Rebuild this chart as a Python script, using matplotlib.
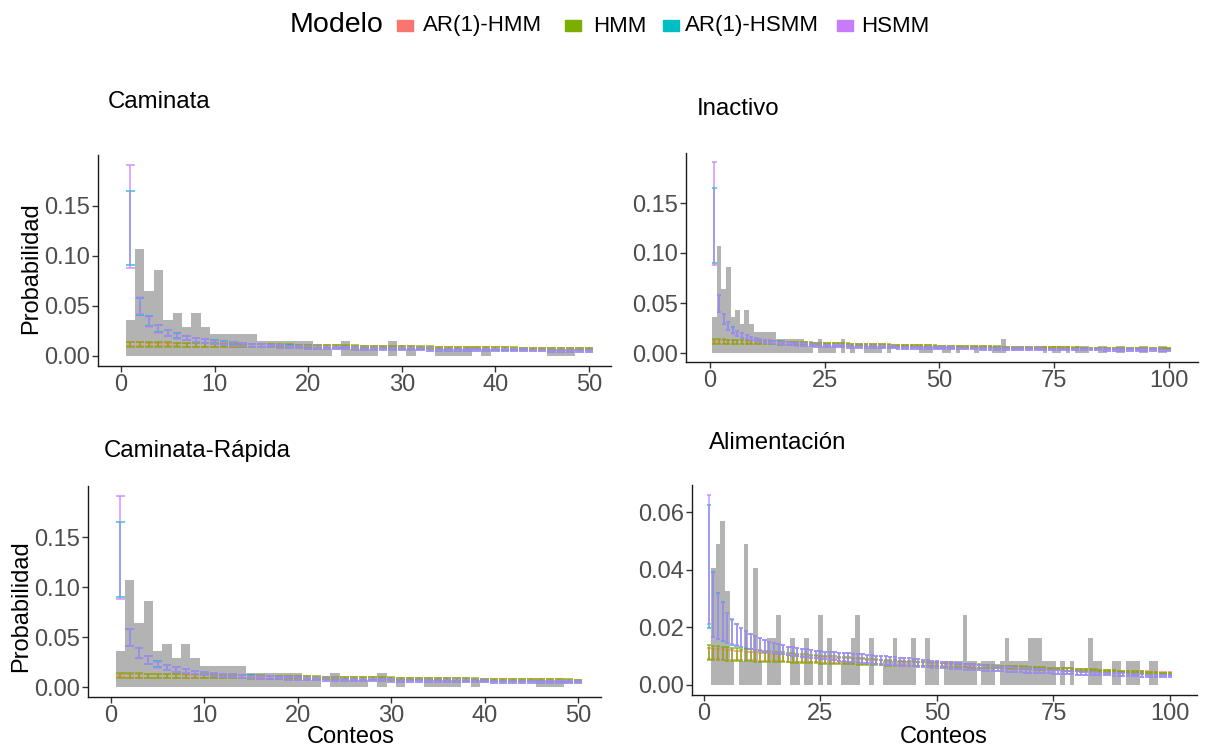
import numpy as np
import matplotlib.pyplot as plt
from matplotlib.patches import Rectangle

plt.rcParams['font.family'] = ['Liberation Sans', 'DejaVu Sans']

W, H = 1209, 751

modelos = ['AR(1)-HMM', 'HMM', 'AR(1)-HSMM', 'HSMM']
colores = ['#F8766D', '#7CAE00', '#00BFC4', '#C77CFF']

conteo = np.arange(1, 101)

# frecuencias observadas (Caminata / Inactivo / Caminata-Rapida), n = 140
frec_cam = [5, 15, 9, 12, 5, 6, 4, 6, 4, 3,
            3, 3, 3, 3, 2, 2, 2, 2, 2, 2,
            1, 1, 0, 2, 1, 1, 1, 0, 2, 0,
            1, 0, 0, 1, 1, 1, 1, 0, 1, 0,
            0, 0, 0, 0, 0, 1, 1, 1, 0, 0,
            1, 1, 0, 1, 0, 0, 0, 1, 0, 0,
            0, 1, 1, 2, 0, 0, 0, 0, 0, 0,
            0, 0, 1, 0, 1, 1, 0, 1, 0, 1,
            1, 1, 0, 0, 1, 1, 0, 0, 1, 1,
            0, 0, 0, 1, 1, 0, 0, 1, 1, 0]
n_cam = 140

# frecuencias observadas (Alimentacion), n = 123
frec_ali = [0, 5, 6, 7, 4, 1, 0, 1, 6, 1,
            5, 1, 0, 2, 2, 3, 0, 0, 2, 1,
            0, 2, 1, 0, 3, 0, 2, 0, 0, 1,
            1, 2, 3, 0, 0, 2, 0, 0, 1, 1,
            2, 1, 1, 1, 2, 0, 0, 2, 1, 1,
            0, 1, 1, 1, 1, 3, 1, 1, 0, 1,
            1, 1, 0, 1, 2, 1, 1, 1, 1, 2,
            2, 2, 1, 1, 1, 0, 1, 0, 1, 0,
            0, 0, 2, 1, 1, 0, 0, 1, 1, 0,
            1, 1, 1, 0, 0, 1, 1, 0, 0, 0]
n_ali = 123

# intervalos de probabilidad estimada, Caminata
cam_hmm_hi = [.0140, .0138, .0137, .0135, .0134, .0132, .0131, .0129, .0128, .0126,
              .0125, .0123, .0122, .0120, .0119, .0117, .0115, .0113, .0111, .0109,
              .0108, .0107, .0105, .0104, .0103, .0101, .0100, .0099, .0098, .0096,
              .0095, .0094, .0093, .0092, .0091, .0089, .0088, .0087, .0086, .0085,
              .0084, .0083, .0082, .0081, .0080, .0079, .0078, .0077, .0076, .0075,
              .0074, .0073, .0073, .0072, .0071, .0070, .0070, .0069, .0068, .0068,
              .0067, .0066, .0066, .0065, .0064, .0064, .0063, .0062, .0062, .0061,
              .0061, .0060, .0059, .0059, .0058, .0058, .0057, .0057, .0056, .0056,
              .0055, .0055, .0054, .0054, .0053, .0053, .0053, .0052, .0052, .0051,
              .0051, .0051, .0050, .0050, .0050, .0049, .0049, .0049, .0048, .0048]
cam_hmm_lo = [.0092, .0091, .0091, .0090, .0090, .0089, .0089, .0088, .0088, .0087,
              .0087, .0087, .0086, .0086, .0085, .0085, .0084, .0083, .0082, .0081,
              .0080, .0079, .0078, .0077, .0076, .0075, .0074, .0073, .0072, .0071,
              .0070, .0069, .0068, .0067, .0066, .0065, .0064, .0063, .0062, .0061,
              .0060, .0059, .0058, .0057, .0057, .0056, .0055, .0054, .0054, .0053,
              .0052, .0052, .0051, .0051, .0050, .0050, .0049, .0049, .0048, .0048,
              .0047, .0047, .0046, .0046, .0046, .0045, .0045, .0044, .0044, .0044,
              .0043, .0043, .0043, .0042, .0042, .0042, .0041, .0041, .0041, .0041,
              .0040, .0040, .0040, .0040, .0039, .0039, .0039, .0039, .0039, .0038,
              .0038, .0038, .0038, .0038, .0037, .0037, .0037, .0037, .0037, .0036]
cam_arhmm_hi = [.0134, .0133, .0132, .0130, .0129, .0128, .0126, .0125, .0124, .0122,
                .0121, .0119, .0118, .0117, .0115, .0114, .0112, .0110, .0109, .0107,
                .0106, .0105, .0103, .0102, .0101, .0099, .0098, .0097, .0096, .0095,
                .0093, .0092, .0091, .0090, .0089, .0088, .0087, .0086, .0085, .0084,
                .0083, .0082, .0081, .0080, .0079, .0078, .0077, .0076, .0075, .0074,
                .0073, .0072, .0072, .0071, .0070, .0069, .0069, .0068, .0067, .0067,
                .0066, .0065, .0065, .0064, .0063, .0063, .0062, .0061, .0061, .0060,
                .0060, .0059, .0058, .0058, .0057, .0057, .0056, .0056, .0055, .0055,
                .0054, .0054, .0053, .0053, .0052, .0052, .0052, .0051, .0051, .0050,
                .0050, .0050, .0049, .0049, .0049, .0048, .0048, .0048, .0047, .0047]
cam_arhmm_lo = [.0096, .0095, .0095, .0094, .0093, .0093, .0092, .0091, .0091, .0090,
                .0089, .0089, .0088, .0087, .0087, .0086, .0085, .0084, .0083, .0082,
                .0081, .0080, .0079, .0078, .0077, .0076, .0075, .0074, .0073, .0072,
                .0071, .0070, .0069, .0068, .0067, .0066, .0065, .0064, .0063, .0062,
                .0061, .0060, .0059, .0058, .0058, .0057, .0056, .0055, .0055, .0054,
                .0053, .0053, .0052, .0052, .0051, .0051, .0050, .0050, .0049, .0049,
                .0048, .0048, .0047, .0047, .0047, .0046, .0046, .0045, .0045, .0045,
                .0044, .0044, .0044, .0043, .0043, .0043, .0042, .0042, .0042, .0042,
                .0041, .0041, .0041, .0041, .0040, .0040, .0040, .0040, .0040, .0039,
                .0039, .0039, .0039, .0039, .0038, .0038, .0038, .0038, .0038, .0037]
cam_hsmm_hi = [.1907, .0583, .0392, .0306, .0253, .0220, .0197, .0178, .0163, .0151,
               .0141, .0133, .0126, .0120, .0115, .0110, .0106, .0102, .0099, .0096,
               .0093, .0091, .0088, .0086, .0084, .0082, .0081, .0079, .0078, .0076,
               .0075, .0074, .0073, .0071, .0070, .0069, .0068, .0067, .0066, .0066,
               .0065, .0064, .0063, .0062, .0062, .0061, .0060, .0059, .0059, .0058,
               .0057, .0057, .0056, .0055, .0055, .0054, .0054, .0053, .0053, .0052,
               .0051, .0051, .0050, .0050, .0049, .0049, .0048, .0048, .0047, .0047,
               .0046, .0046, .0045, .0045, .0045, .0044, .0044, .0043, .0043, .0042,
               .0042, .0042, .0041, .0041, .0040, .0040, .0040, .0039, .0039, .0038,
               .0038, .0038, .0037, .0037, .0037, .0036, .0036, .0036, .0035, .0035]
cam_hsmm_lo = [.0880, .0413, .0290, .0231, .0195, .0171, .0153, .0138, .0127, .0117,
               .0109, .0102, .0097, .0092, .0087, .0083, .0080, .0077, .0074, .0072,
               .0069, .0067, .0065, .0063, .0062, .0060, .0059, .0057, .0056, .0055,
               .0054, .0053, .0052, .0051, .0050, .0049, .0048, .0047, .0047, .0046,
               .0045, .0045, .0044, .0043, .0043, .0042, .0041, .0041, .0040, .0040,
               .0039, .0039, .0038, .0038, .0037, .0037, .0036, .0036, .0035, .0035,
               .0034, .0034, .0034, .0033, .0033, .0032, .0032, .0032, .0031, .0031,
               .0030, .0030, .0030, .0029, .0029, .0029, .0028, .0028, .0028, .0027,
               .0027, .0027, .0026, .0026, .0026, .0025, .0025, .0025, .0025, .0024,
               .0024, .0024, .0023, .0023, .0023, .0023, .0022, .0022, .0022, .0022]
# AR(1)-HSMM difiere del HSMM solo en los primeros conteos
cam_arhsmm_hi = [.1650, .0578, .0394, .0309, .0256, .0223, .0199, .0180, .0165, .0153,
                 .0143, .0134, .0127, .0121, .0116, .0111, .0107, .0103, .0099, .0096] + cam_hsmm_hi[20:]
cam_arhsmm_lo = [.0905, .0411, .0293, .0234, .0198, .0173, .0155, .0140, .0128, .0118,
                 .0110, .0103, .0097, .0092, .0088, .0084, .0080, .0077, .0075, .0072] + cam_hsmm_lo[20:]

# intervalos de probabilidad estimada, Alimentacion
ali_hmm_hi = [.0138, .0136, .0134, .0133, .0131, .0129, .0128, .0126, .0124, .0123,
              .0121, .0120, .0118, .0117, .0115, .0114, .0113, .0111, .0110, .0109,
              .0107, .0106, .0105, .0104, .0102, .0101, .0100, .0099, .0098, .0097,
              .0096, .0095, .0094, .0092, .0091, .0090, .0089, .0088, .0087, .0086,
              .0085, .0084, .0083, .0083, .0082, .0081, .0080, .0079, .0078, .0078,
              .0077, .0076, .0075, .0074, .0074, .0073, .0072, .0071, .0071, .0070,
              .0069, .0068, .0068, .0067, .0066, .0066, .0065, .0064, .0064, .0063,
              .0062, .0062, .0061, .0060, .0060, .0059, .0058, .0058, .0057, .0056,
              .0056, .0055, .0054, .0054, .0053, .0052, .0052, .0051, .0050, .0050,
              .0049, .0048, .0047, .0047, .0046, .0045, .0044, .0043, .0042, .0041]
ali_hmm_lo = [.0086, .0086, .0085, .0085, .0084, .0084, .0083, .0083, .0082, .0082,
              .0081, .0081, .0080, .0080, .0079, .0079, .0078, .0078, .0077, .0077,
              .0076, .0076, .0075, .0075, .0074, .0074, .0073, .0073, .0072, .0072,
              .0071, .0071, .0070, .0069, .0069, .0068, .0068, .0068, .0067, .0067,
              .0067, .0066, .0066, .0066, .0065, .0065, .0065, .0064, .0064, .0064,
              .0063, .0063, .0062, .0062, .0061, .0061, .0060, .0060, .0059, .0059,
              .0058, .0058, .0057, .0057, .0056, .0056, .0055, .0055, .0054, .0054,
              .0053, .0053, .0052, .0052, .0051, .0051, .0050, .0050, .0049, .0049,
              .0048, .0048, .0047, .0047, .0046, .0046, .0045, .0045, .0044, .0044,
              .0041, .0041, .0040, .0040, .0039, .0039, .0038, .0037, .0037, .0036]
ali_arhmm_hi = [.0127, .0126, .0124, .0123, .0122, .0120, .0119, .0118, .0116, .0115,
                .0114, .0112, .0111, .0110, .0109, .0108, .0106, .0105, .0104, .0103,
                .0102, .0101, .0100, .0099, .0098, .0097, .0096, .0095, .0094, .0093,
                .0092, .0091, .0090, .0089, .0088, .0087, .0086, .0085, .0084, .0083,
                .0082, .0082, .0081, .0080, .0079, .0078, .0078, .0077, .0076, .0075,
                .0075, .0074, .0073, .0072, .0072, .0071, .0070, .0070, .0069, .0068,
                .0068, .0067, .0066, .0066, .0065, .0064, .0064, .0063, .0062, .0062,
                .0061, .0061, .0060, .0059, .0059, .0058, .0057, .0057, .0056, .0056,
                .0055, .0054, .0054, .0053, .0053, .0052, .0051, .0051, .0050, .0050,
                .0049, .0048, .0048, .0047, .0047, .0046, .0045, .0045, .0044, .0044]
ali_arhmm_lo = [.0090, .0089, .0089, .0088, .0088, .0087, .0087, .0086, .0086, .0085,
                .0085, .0084, .0084, .0083, .0083, .0082, .0082, .0081, .0081, .0080,
                .0079, .0079, .0078, .0078, .0077, .0077, .0076, .0076, .0075, .0075,
                .0074, .0073, .0073, .0072, .0072, .0071, .0071, .0070, .0070, .0069,
                .0069, .0068, .0068, .0067, .0067, .0066, .0066, .0065, .0065, .0064,
                .0064, .0063, .0063, .0062, .0062, .0061, .0061, .0060, .0060, .0059,
                .0059, .0058, .0058, .0057, .0057, .0056, .0056, .0055, .0055, .0054,
                .0054, .0053, .0053, .0052, .0052, .0051, .0051, .0050, .0050, .0049,
                .0049, .0048, .0048, .0047, .0047, .0046, .0046, .0045, .0045, .0044,
                .0044, .0043, .0043, .0042, .0042, .0041, .0041, .0040, .0040, .0039]
ali_hsmm_hi = [.0658, .0388, .0316, .0283, .0248, .0226, .0210, .0197, .0186, .0177,
               .0169, .0162, .0156, .0150, .0145, .0141, .0137, .0133, .0130, .0127,
               .0125, .0123, .0121, .0119, .0118, .0116, .0115, .0113, .0112, .0111,
               .0110, .0109, .0108, .0107, .0105, .0104, .0102, .0101, .0099, .0098,
               .0096, .0095, .0093, .0092, .0090, .0089, .0087, .0086, .0084, .0082,
               .0081, .0079, .0078, .0076, .0075, .0074, .0072, .0071, .0070, .0068,
               .0067, .0066, .0065, .0063, .0062, .0061, .0060, .0059, .0058, .0057,
               .0056, .0055, .0054, .0053, .0052, .0051, .0050, .0049, .0048, .0047,
               .0046, .0046, .0045, .0044, .0043, .0042, .0042, .0041, .0040, .0040,
               .0039, .0038, .0038, .0037, .0036, .0036, .0035, .0035, .0034, .0034]
ali_hsmm_lo = [.0210, .0167, .0161, .0155, .0147, .0141, .0137, .0133, .0130, .0125,
               .0122, .0119, .0116, .0113, .0111, .0108, .0106, .0104, .0102, .0100,
               .0098, .0096, .0094, .0092, .0090, .0089, .0087, .0085, .0084, .0082,
               .0081, .0079, .0078, .0076, .0075, .0074, .0073, .0071, .0070, .0069,
               .0068, .0067, .0066, .0065, .0064, .0063, .0062, .0061, .0060, .0059,
               .0058, .0057, .0056, .0055, .0054, .0053, .0052, .0052, .0051, .0050,
               .0049, .0048, .0048, .0047, .0046, .0045, .0045, .0044, .0043, .0043,
               .0042, .0041, .0041, .0040, .0039, .0039, .0038, .0038, .0037, .0036,
               .0036, .0035, .0035, .0034, .0034, .0033, .0033, .0032, .0032, .0031,
               .0031, .0030, .0030, .0029, .0029, .0028, .0028, .0027, .0027, .0026]
ali_arhsmm_hi = [.0624, .0391, .0318, .0288, .0250, .0228, .0212, .0199, .0188, .0178] + ali_hsmm_hi[10:]
ali_arhsmm_lo = [.0198, .0165, .0159, .0153, .0146, .0140, .0136, .0132, .0129, .0124] + ali_hsmm_lo[10:]

bandas_cam = [(cam_arhmm_lo, cam_arhmm_hi), (cam_hmm_lo, cam_hmm_hi),
              (cam_arhsmm_lo, cam_arhsmm_hi), (cam_hsmm_lo, cam_hsmm_hi)]
bandas_ali = [(ali_arhmm_lo, ali_arhmm_hi), (ali_hmm_lo, ali_hmm_hi),
              (ali_arhsmm_lo, ali_arhsmm_hi), (ali_hsmm_lo, ali_hsmm_hi)]


def caja(l, r, t, b):
    return [l / W, 1 - b / H, (r - l) / W, (b - t) / H]


def panel(rect, frec, n_obs, bandas, n_max, xlim, ylim, xticks, yticks):
    ax = fig.add_axes(rect)
    x = conteo[:n_max]
    p = np.array(frec[:n_max]) / n_obs
    ax.bar(x, p, width=1.0, color='#B3B3B3', linewidth=0)
    for (lo, hi), col in zip(bandas, colores):
        lo = np.array(lo[:n_max])
        hi = np.array(hi[:n_max])
        ax.vlines(x, lo, hi, color=col, alpha=0.7, lw=1.3)
        ax.hlines(lo, x - 0.45, x + 0.45, color=col, alpha=0.7, lw=1.3)
        ax.hlines(hi, x - 0.45, x + 0.45, color=col, alpha=0.7, lw=1.3)
    ax.set_xlim(*xlim)
    ax.set_ylim(*ylim)
    ax.set_xticks(xticks)
    ax.set_yticks(yticks)
    ax.set_yticklabels([f'{v:.2f}' for v in yticks])
    for s in ['top', 'right']:
        ax.spines[s].set_visible(False)
    for s in ['left', 'bottom']:
        ax.spines[s].set_color('#1a1a1a')
        ax.spines[s].set_linewidth(1.0)
    ax.tick_params(labelsize=17, labelcolor='#4D4D4D', color='#333333',
                   length=4, width=1.0, pad=2)
    return ax


fig = plt.figure(figsize=(W / 100, H / 100), dpi=100)

yt = [0.0, 0.05, 0.10, 0.15]
panel(caja(98, 611, 155, 366), frec_cam, n_cam, bandas_cam, 50,
      (-2.46, 52.35), (-0.0103, 0.2007), [0, 10, 20, 30, 40, 50], yt)
panel(caja(686, 1198, 153, 362), frec_cam, n_cam, bandas_cam, 100,
      (-5.2, 106.3), (-0.009, 0.20), [0, 25, 50, 75, 100], yt)
panel(caja(88, 601, 486, 697), frec_cam, n_cam, bandas_cam, 50,
      (-2.46, 52.46), (-0.010, 0.201), [0, 10, 20, 30, 40, 50], yt)
panel(caja(692, 1197, 485, 695), frec_ali, n_ali, bandas_ali, 100,
      (-2.57, 105.8), (-0.0035, 0.0694), [0, 25, 50, 75, 100],
      [0.0, 0.02, 0.04, 0.06])

# titulos de cada actividad
fig.text(108 / W, 1 - 102 / H, 'Caminata', fontsize=17.3, va='center')
fig.text(697 / W, 1 - 109 / H, 'Inactivo', fontsize=17.3, va='center')
fig.text(104 / W, 1 - 451 / H, 'Caminata-Rápida', fontsize=17.3, va='center')
fig.text(709 / W, 1 - 443 / H, 'Alimentación', fontsize=17.3, va='center')

fig.text(31 / W, 1 - 268 / H, 'Probabilidad', fontsize=17, rotation=90,
         ha='center', va='center')
fig.text(21 / W, 1 - 606 / H, 'Probabilidad', fontsize=17, rotation=90,
         ha='center', va='center')
fig.text(351 / W, 1 - 737 / H, 'Conteos', fontsize=17, ha='center', va='center')
fig.text(944 / W, 1 - 737 / H, 'Conteos', fontsize=17, ha='center', va='center')

# leyenda superior
fig.text(290 / W, 1 - 25 / H, 'Modelo', fontsize=20.5, va='center')
key_x = [397, 565, 663, 837]
lab_x = [423, 593, 685, 861]
for nom, col, kx, lx in zip(modelos, colores, key_x, lab_x):
    fig.add_artist(Rectangle((kx / W, 1 - 31 / H), 16 / W, 11 / H,
                             color=col, transform=fig.transFigure))
    fig.text(lx / W, 1 - 26 / H, nom, fontsize=16, va='center')

fig.savefig('out.png', dpi=100)
